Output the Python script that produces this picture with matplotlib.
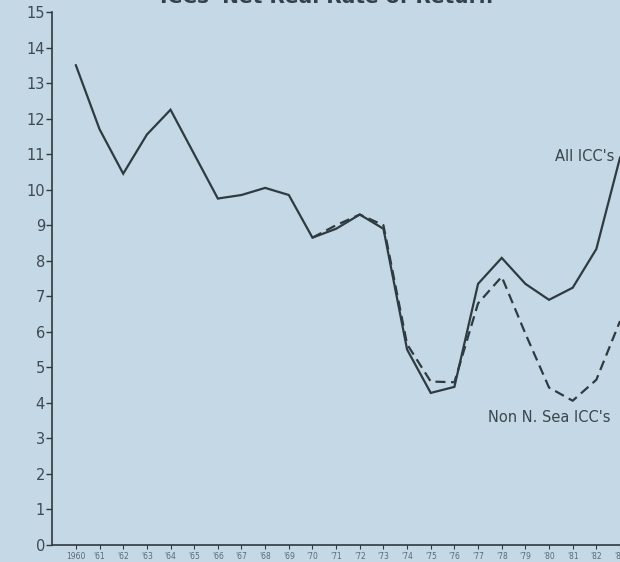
import numpy as np
import matplotlib.pyplot as plt

# ICCs' net real rate of return, %
years = np.arange(1960, 1984)
all_iccs = [13.5, 11.7, 10.45, 11.55, 12.25, 11.0, 9.75, 9.85, 10.05, 9.85,
            8.65, 8.9, 9.3, 8.9, 5.5, 4.28, 4.45, 7.35, 8.08, 7.35,
            6.9, 7.24, 8.33, 10.9]

nonns_years = np.arange(1970, 1984)
non_ns_iccs = [8.65, 9.0, 9.3, 9.0, 5.65, 4.6, 4.58, 6.8, 7.55, 5.95,
               4.43, 4.06, 4.65, 6.3]

xlabels = ["1960"] + ["'%02d" % (y % 100) for y in years[1:]]
ink = "#2e3b40"
bg = "#c5d8e5"

fig = plt.figure(figsize=(6.2, 5.62), dpi=100, facecolor=bg)
ax = fig.add_axes([52 / 620, 17 / 562, 1 - 52 / 620, 533 / 562])
ax.set_facecolor(bg)

ax.plot(years, all_iccs, color=ink, lw=1.6, solid_joinstyle="miter")
ax.plot(nonns_years, non_ns_iccs, color=ink, lw=1.6, dashes=(4.5, 2.5))

ax.set_xlim(1958.99, 1982.86)
ax.set_ylim(0, 15)
ax.set_yticks(range(0, 16))
ax.set_xticks(years)
ax.set_xticklabels(xlabels, fontsize=5.5, color="#5a6a72")
ax.tick_params(axis="y", labelsize=10.5, labelcolor="#3e4a50", color=ink,
               length=4, width=1, pad=1)
ax.tick_params(axis="x", color=ink, length=3, width=0.8, pad=2)
for s in ["top", "right"]:
    ax.spines[s].set_visible(False)
for s in ["left", "bottom"]:
    ax.spines[s].set_color(ink)
    ax.spines[s].set_linewidth(1.2)

ax.text(1980.25, 10.93, "All ICC's", fontsize=10.5, color="#3a474c",
        ha="left", va="center", clip_on=False)
ax.text(1977.4, 3.58, "Non N. Sea ICC's", fontsize=10.5, color="#3a474c",
        ha="left", va="center", clip_on=False)

fig.text(0.527, 1 - 3 / 562, "ICCs' Net Real Rate of Return",
         fontsize=14.5, fontweight="bold", color="#33414a",
         ha="center", va="baseline")

fig.savefig("out.png", dpi=100, facecolor=bg)
